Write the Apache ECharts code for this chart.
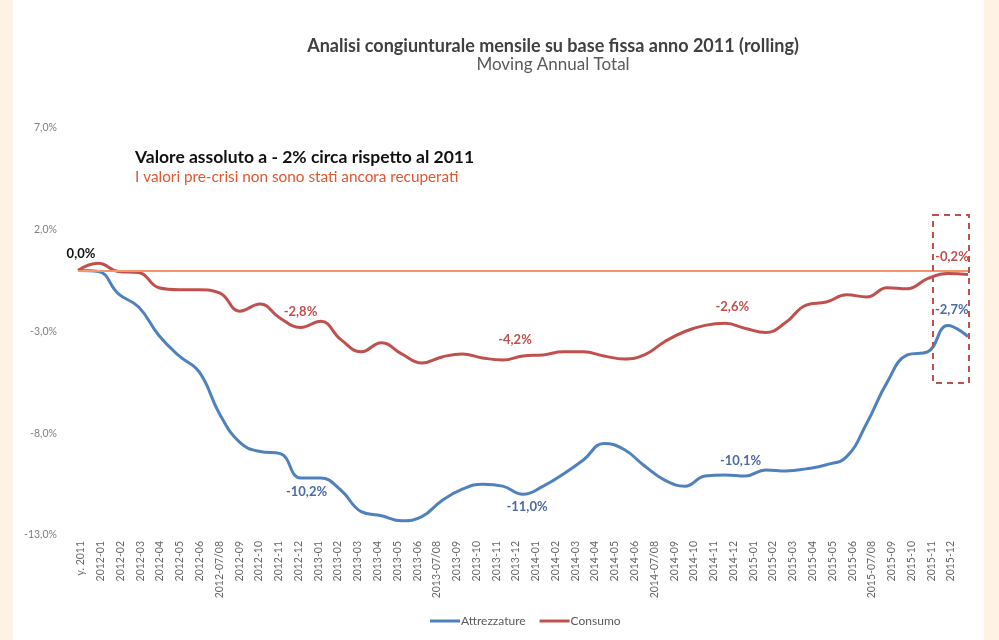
<!DOCTYPE html>
<html>
<head>
<meta charset="utf-8">
<script src="https://cdn.jsdelivr.net/npm/echarts@6/dist/echarts.min.js"></script>
<style>
  html, body { margin: 0; padding: 0; background: #fdf2e4; }
  #chart { position: absolute; left: 13px; top: 0; width: 971px; height: 640px; background: #fff; }
</style>
</head>
<body>
<div id="chart"></div>
<script>
// mesi (asse x)
const categories = [
  'y. 2011',
  '2012-01', '2012-02', '2012-03', '2012-04', '2012-05', '2012-06', '2012-07/08', '2012-09', '2012-10', '2012-11', '2012-12',
  '2013-01', '2013-02', '2013-03', '2013-04', '2013-05', '2013-06', '2013-07/08', '2013-09', '2013-10', '2013-11', '2013-12',
  '2014-01', '2014-02', '2014-03', '2014-04', '2014-05', '2014-06', '2014-07/08', '2014-09', '2014-10', '2014-11', '2014-12',
  '2015-01', '2015-02', '2015-03', '2015-04', '2015-05', '2015-06', '2015-07/08', '2015-09', '2015-10', '2015-11', '2015-12'
]

// valori in %
const attrezzature = [
  0, -0.05, -1.15, -1.8, -3.2, -4.2, -5.0, -7.05, -8.45, -8.9, -9.0,
  -10.2, -10.2, -10.8, -11.85, -12.05, -12.3, -12.1, -11.3, -10.75, -10.5, -10.6,
  -11.0, -10.6, -10.0, -9.3, -8.5, -8.8, -9.6, -10.3, -10.6, -10.1, -10.05,
  -10.1, -9.8, -9.85, -9.75, -9.55, -9.15, -7.5, -5.5, -4.15, -4.0, -2.7, -3.25
]
const consumo = [
  0, 0.35, -0.05, -0.1, -0.85, -0.95, -0.95, -1.1, -2.0, -1.65, -2.35,
  -2.8, -2.5, -3.4, -4.0, -3.55, -4.1, -4.55, -4.25, -4.1, -4.3, -4.4,
  -4.2, -4.15, -4.0, -4.0, -4.2, -4.35, -4.15, -3.5, -3.0, -2.7, -2.6,
  -2.85, -3.05, -2.55, -1.7, -1.55, -1.2, -1.3, -0.85, -0.9, -0.4, -0.15, -0.2
]
const yTicks = [7, 2, -3, -8, -13]

// punti etichettati
const consumoLabels = [0, 11, 22, 32, 44]
const attrezzatureLabels = [11, 22, 33, 43]

const fmt = (v) => v.toFixed(1).replace('.', ',') + '%'
const font = 'Lato, "Open Sans", sans-serif'

const labelStyle = {
  0:  { color: '#111', distance: 10, offset: [3, 0] },
  11: { distance: 9, offset: [0, 0] },
  22: { distance: 10, offset: [-8, 0] },
  32: { distance: 10, offset: [7, 0] },
  44: { distance: 11, offset: [-16, 0] }
}
const blueLabelStyle = {
  11: { position: 'bottom', distance: 7, offset: [6, 0] },
  22: { position: 'bottom', distance: 6, offset: [4, 0] },
  33: { position: 'top', distance: 9, offset: [-5, 0] },
  43: { position: 'top', distance: 9, offset: [4, 0] }
}

const redData = consumo.map((v, i) => {
  if (!consumoLabels.includes(i)) return v
  return {
    value: v,
    label: Object.assign({
      show: true, position: 'top', color: '#c0504d', fontWeight: 'bold', fontSize: 13, fontFamily: font,
      formatter: (p) => fmt(p.value)
    }, labelStyle[i])
  }
})
const blueData = attrezzature.map((v, i) => {
  if (!attrezzatureLabels.includes(i)) return v
  return {
    value: v,
    label: Object.assign({
      show: true, color: '#4a6aa5', fontWeight: 'bold', fontSize: 13, fontFamily: font,
      formatter: (p) => fmt(p.value)
    }, blueLabelStyle[i])
  }
})

const chart = echarts.init(document.getElementById('chart'))
const ox = 13

chart.setOption({
  animation: false,
  backgroundColor: '#fff',
  textStyle: { fontFamily: font },
  title: {
    text: 'Analisi congiunturale mensile su base fissa anno 2011 (rolling)',
    subtext: 'Moving Annual Total',
    left: 548 - ox, top: 32, textAlign: 'center', itemGap: 1,
    textStyle: { fontSize: 18, fontWeight: 'bold', color: '#404040', fontFamily: font },
    subtextStyle: { fontSize: 17, color: '#595959', fontFamily: font }
  },
  legend: {
    left: 425 - ox, top: 610,
    icon: 'rect', itemWidth: 30, itemHeight: 3, itemGap: 14,
    textStyle: { fontSize: 12, color: '#595959', fontFamily: font, padding: [0, 0, 0, -4] },
    data: ['Attrezzature', 'Consumo']
  },
  grid: [
    { left: 78 - ox, right: 999 - 968 - (999 - 984), top: 128, bottom: 105 },
    { left: 81 - ox, right: 999 - 951 - (999 - 984), top: 128, bottom: 105 }
  ],
  xAxis: [
    {
      type: 'category', gridIndex: 0, data: categories, boundaryGap: false,
      axisLine: { show: false }, axisTick: { show: false }, axisLabel: { show: false }
    },
    {
      type: 'category', gridIndex: 1, data: categories, boundaryGap: false,
      axisLine: { show: false }, axisTick: { show: false },
      axisLabel: { interval: 0, rotate: 90, margin: 6, fontSize: 10.5, color: '#666', fontFamily: font }
    }
  ],
  yAxis: [
    {
      type: 'value', gridIndex: 0, min: -13, max: 7, interval: 1,
      axisLine: { show: false }, axisTick: { show: false }, splitLine: { show: false },
      axisLabel: {
        margin: 21, fontSize: 10.5, color: '#7f7f7f', fontFamily: font,
        formatter: (v) => yTicks.includes(v) ? fmt(v) : ''
      }
    },
    { type: 'value', gridIndex: 1, min: 0, max: 1, show: false }
  ],
  series: [
    {
      name: 'Attrezzature', type: 'line', data: blueData,
      smooth: 0.45, symbol: 'circle', symbolSize: 0, showAllSymbol: true,
      lineStyle: { width: 3, color: '#4f81bd' }, itemStyle: { color: '#4f81bd' }, z: 3
    },
    {
      name: 'Consumo', type: 'line', data: redData,
      smooth: 0.45, symbol: 'circle', symbolSize: 0, showAllSymbol: true,
      lineStyle: { width: 3, color: '#c0504d' }, itemStyle: { color: '#c0504d' }, z: 4,
      markLine: {
        silent: true, symbol: 'none', label: { show: false },
        lineStyle: { color: '#f4956b', width: 2, type: 'solid' },
        data: [{ yAxis: 0 }]
      }
    }
  ],
  graphic: [
    {
      type: 'text', left: 135 - ox, top: 148,
      style: { text: 'Valore assoluto a - 2% circa rispetto al 2011', fontSize: 17.5, fontWeight: 'bold', fill: '#111', fontFamily: font }
    },
    {
      type: 'text', left: 135 - ox, top: 170,
      style: { text: 'I valori pre-crisi non sono stati ancora recuperati', fontSize: 15.3, fill: '#e2572e', fontFamily: font }
    },
    {
      type: 'rect', shape: { x: 933 - ox, y: 215, width: 36, height: 168 },
      style: { fill: 'none', stroke: '#c0504d', lineWidth: 2, lineDash: [6, 5] }, z: 10
    }
  ]
})
</script>
</body>
</html>
